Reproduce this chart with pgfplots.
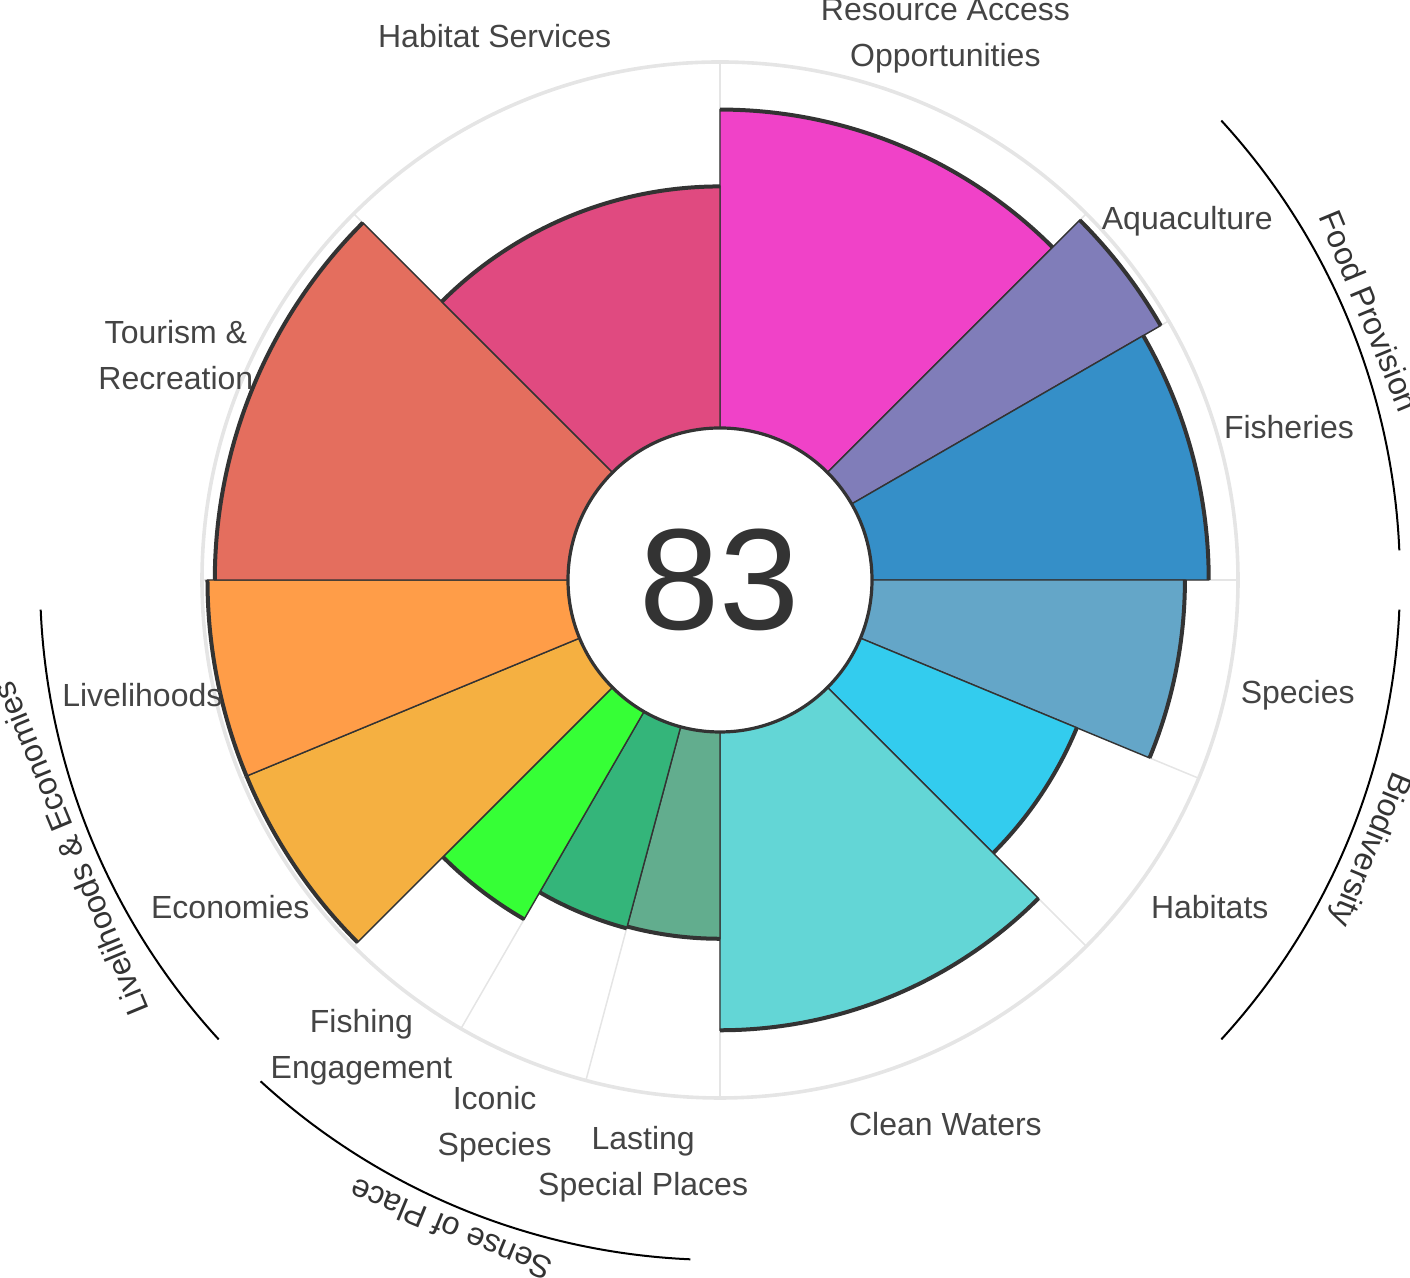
\documentclass[border=0pt]{standalone}
\usepackage{pgfplots}
\pgfplotsset{compat=1.18}
\usepackage{fontspec}
\setmainfont{Liberation Sans}
\definecolor{cRAO}{HTML}{F042C8}
\definecolor{cAQ}{HTML}{807DB9}
\definecolor{cFIS}{HTML}{358FC8}
\definecolor{cSP}{HTML}{64A6C8}
\definecolor{cHAB}{HTML}{33CCEE}
\definecolor{cCW}{HTML}{63D6D6}
\definecolor{cLSP}{HTML}{62AD8E}
\definecolor{cICO}{HTML}{34B57A}
\definecolor{cFE}{HTML}{36FF36}
\definecolor{cECO}{HTML}{F5B041}
\definecolor{cLIV}{HTML}{FF9D48}
\definecolor{cTR}{HTML}{E46E5E}
\definecolor{cHS}{HTML}{E04A80}
\definecolor{dk}{HTML}{333333}
\definecolor{gridc}{HTML}{E5E5E5}
\definecolor{lab}{HTML}{444444}
% radius (px, 1px = 0.5pt) of a score: hole 152px, score 100 at 518px
\newcommand\petR[1]{(152+3.66*#1)}
% petal: start angle, end angle (degrees clockwise from top), score, colour
\newcommand\petal[4]{%
  \addplot[fill=#4, draw=dk, line width=0.7pt] coordinates {(0,0)}
    -- ({\petR{#3}*sin(#1)},{\petR{#3}*cos(#1)})
    arc[start angle={90-#1}, end angle={90-#2}, radius={\petR{#3}*0.5pt}] -- cycle;}
\newcommand\rim[3]{%
  \addplot[draw=dk, line width=2pt] coordinates {(0,0)}
    ({\petR{#3}*sin(#1)},{\petR{#3}*cos(#1)})
    arc[start angle={90-#1}, end angle={90-#2}, radius={\petR{#3}*0.5pt}];}
\newcommand\glab[2]{%
  \node[text=lab, align=center, font=\fontsize{16}{23}\selectfont]
    at ({589*sin(#1)},{589*cos(#1)}) {#2};}
\newcommand\group[4]{% start, end, mid, text
  \draw[black, line width=1pt] ({680*sin(#1)},{680*cos(#1)})
    arc[start angle={90-#1}, end angle={90-#2}, radius=340pt];
  \node[text=dk, rotate=-#3, font=\fontsize{16}{20}\selectfont]
    at ({703*sin(#3)},{703*cos(#3)}) {#4};}
\newcommand\spoke[1]{%
  \draw[gridc, line width=0.75pt] ({152*sin(#1)},{152*cos(#1)}) -- ({518*sin(#1)},{518*cos(#1)});}
\begin{document}
\begin{tikzpicture}
\begin{axis}[x=0.5pt, y=0.5pt, xmin=-720, xmax=690, ymin=-698, ymax=580,
  hide axis, clip=false]
\coordinate (bl) at (-720,-698);
\coordinate (tr) at (690,580);
% grid
\draw[gridc, line width=1.8pt] (0,0) circle[radius=259pt];
\spoke{0}\spoke{45}\spoke{60}\spoke{90}\spoke{112.5}\spoke{135}\spoke{180}
\spoke{195}\spoke{210}\spoke{225}\spoke{247.5}\spoke{270}\spoke{315}
% petals
\petal{0}{45}{87}{cRAO}
\petal{45}{60}{97.5}{cAQ}
\petal{60}{90}{92}{cFIS}
\petal{90}{112.5}{85.5}{cSP}
\petal{112.5}{135}{64}{cHAB}
\petal{135}{180}{81.5}{cCW}
\petal{180}{195}{56.5}{cLSP}
\petal{195}{210}{57}{cICO}
\petal{210}{225}{65.5}{cFE}
\petal{225}{247.5}{98.5}{cECO}
\petal{247.5}{270}{98.5}{cLIV}
\petal{270}{315}{96.5}{cTR}
\petal{315}{360}{66}{cHS}
% outer rims
\rim{0}{45}{87}
\rim{45}{60}{97.5}
\rim{60}{90}{92}
\rim{90}{112.5}{85.5}
\rim{112.5}{135}{64}
\rim{135}{180}{81.5}
\rim{180}{195}{56.5}
\rim{195}{210}{57}
\rim{210}{225}{65.5}
\rim{225}{247.5}{98.5}
\rim{247.5}{270}{98.5}
\rim{270}{315}{96.5}
\rim{315}{360}{66}
% centre
\draw[dk, fill=white, line width=1.6pt] (0,0) circle[radius=76pt];
\node[text=dk, font=\fontsize{72}{80}\selectfont] at (0,0) {83};
% labels
\glab{22.5}{Resource Access\\Opportunities}
\glab{52.5}{Aquaculture}
\glab{75}{Fisheries}
\glab{101.25}{Species}
\glab{123.75}{Habitats}
\glab{157.5}{Clean Waters}
\glab{187.5}{Lasting\\Special Places}
\glab{202.5}{Iconic\\Species}
\glab{217.5}{Fishing\\Engagement}
\glab{236.25}{Economies}
\glab{258.75}{Livelihoods}
\glab{292.5}{Tourism \&\\Recreation}
\glab{337.5}{Habitat Services}
% goal groups
\group{47.5}{87.5}{67.5}{Food Provision}
\group{92.5}{132.5}{112.5}{Biodiversity}
\group{182.5}{222.5}{202.5}{Sense of Place}
\group{227.5}{267.5}{247.5}{Livelihoods \& Economies}
\end{axis}
\pgfresetboundingbox
\path (bl) rectangle (tr);
\end{tikzpicture}
\end{document}
